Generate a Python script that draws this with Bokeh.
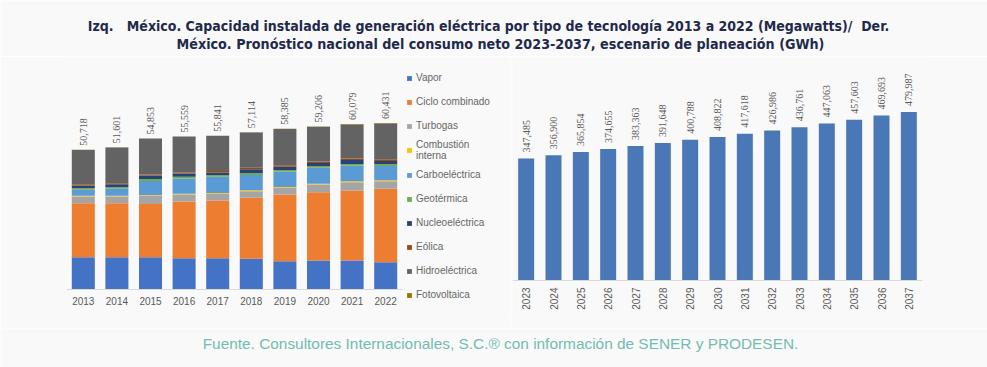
import math
from bokeh.plotting import figure
from bokeh.models import ColumnDataSource, Legend, LegendItem, Label, LabelSet, Range1d, FixedTicker
from bokeh.layouts import column, row
from bokeh.embed import file_html
from bokeh.resources import INLINE

# ---------------- data ----------------
years_left = ["2013", "2014", "2015", "2016", "2017", "2018", "2019", "2020", "2021", "2022"]
totals_left = [50718, 51601, 54853, 55559, 55841, 57114, 58385, 59206, 60079, 60431]
vapor = [11740, 11740, 11700, 11370, 11370, 11130, 10290, 10530, 10530, 9920]
ciclo = [19600, 19600, 19360, 20570, 20930, 22140, 24200, 24800, 25410, 26620]
turbogas = [2420, 2420, 3020, 2540, 2420, 2420, 2420, 2780, 3020, 2780]
combustion = [250, 250, 260, 270, 280, 300, 310, 320, 330, 340]
carbo = [2180, 2540, 5080, 5570, 5900, 5570, 5570, 5800, 5690, 5200]
geo = [600, 600, 720, 600, 600, 600, 600, 500, 600, 600]
nucleo = [970, 1090, 1210, 1210, 1000, 1450, 1210, 1210, 1450, 1210]
eolica = [480, 360, 360, 360, 480, 600, 480, 480, 480, 600]
hidro = [12418, 12941, 13083, 13009, 12801, 12824, 13205, 12666, 12419, 12981]
foto = [60, 60, 60, 60, 60, 80, 100, 120, 150, 180]

series_keys = ["vapor", "ciclo", "turbogas", "combustion", "carbo", "geo", "nucleo", "eolica", "hidro", "foto"]
series_labels = ["Vapor", "Ciclo combinado", "Turbogas", "Combustión\ninterna", "Carboeléctrica",
                 "Geotérmica", "Nucleoeléctrica", "Eólica", "Hidroeléctrica", "Fotovoltaica"]
series_colors = ["#4472C4", "#ED7D31", "#A5A5A5", "#FFC000", "#5B9BD5",
                 "#70AD47", "#264478", "#9E480E", "#636363", "#997300"]

years_right = ["2023", "2024", "2025", "2026", "2027", "2028", "2029", "2030",
               "2031", "2032", "2033", "2034", "2035", "2036", "2037"]
consumo = [347485, 356900, 365854, 374655, 383363, 391648, 400788, 408822,
           417618, 426986, 436761, 447063, 457603, 469693, 479987]

# ---------------- style ----------------
BG = "#F9F9F9"
AX = "#D9D9D9"
TXT = "#595959"
FONT = "Liberation Sans"
TITLE_FONT = "DejaVu Sans Condensed"
NB = "\u00a0"


def blank(w, h):
    f = figure(width=w, height=h, x_range=Range1d(0, w), y_range=Range1d(0, h),
               x_axis_location=None, y_axis_location=None, output_backend="svg",
               toolbar_location=None, min_border=0, min_border_left=0, min_border_right=0,
               min_border_top=0, min_border_bottom=0,
               background_fill_color=BG, border_fill_color=BG, outline_line_color=None)
    f.grid.visible = False
    return f


def style_axis(ax):
    ax.fixed_location = 0
    ax.axis_line_color = AX
    ax.major_tick_line_color = None
    ax.minor_tick_line_color = None
    ax.major_tick_out = 0
    ax.major_label_text_font = FONT
    ax.major_label_text_font_size = "10px"
    ax.major_label_text_color = TXT
    ax.major_label_standoff = 7


# ---------------- header ----------------
header = blank(987, 56)
header.add_layout(Label(x=488, y=31,
                        text=f"Izq.{NB}{NB}{NB}México. Capacidad instalada de generación eléctrica por tipo de tecnología 2013 a 2022 (Megawatts)/{NB}{NB}Der.",
                        text_align="center", text_baseline="alphabetic", text_font=TITLE_FONT,
                        text_font_style="bold", text_font_size="14px", text_color="#1F2A4A"))
header.add_layout(Label(x=500, y=13,
                        text="México. Pronóstico nacional del consumo neto 2023-2037, escenario de planeación (GWh)",
                        text_align="center", text_baseline="alphabetic", text_font=TITLE_FONT,
                        text_font_style="bold", text_font_size="14.2px", text_color="#1F2A4A"))

# ---------------- left chart ----------------
# frame: x 66..510 (33.6 px per year), y 61..314, zero line at 289 (363 MW per px)
n_left = len(years_left)
src_l = dict(xi=list(range(n_left)), year=years_left, total=totals_left,
             label=[f"{v:,}" for v in totals_left])
for k, arr in zip(series_keys, [vapor, ciclo, turbogas, combustion, carbo, geo, nucleo, eolica, hidro, foto]):
    src_l[k] = arr
src_l = ColumnDataSource(src_l)

pl = figure(x_range=Range1d(-0.5, -0.5 + 444 / 33.6), y_range=Range1d(-25 * 363, 228 * 363),
            width=510, height=272, y_axis_location=None, output_backend="svg", toolbar_location=None,
            min_border_left=66, min_border_right=0, min_border_top=5, min_border_bottom=14,
            background_fill_color=BG, border_fill_color=BG, outline_line_color=None)
rs = pl.vbar_stack(series_keys, x="xi", width=0.685, color=series_colors, line_color=None, source=src_l)
pl.grid.visible = False
style_axis(pl.xaxis[0])
pl.xaxis.bounds = (-0.5, n_left - 0.5)
pl.xaxis.ticker = FixedTicker(ticks=list(range(n_left)))
pl.xaxis.major_label_overrides = {i: y for i, y in enumerate(years_left)}

pl.add_layout(LabelSet(x="xi", y="total", text="label", source=src_l, angle=math.pi / 2,
                       text_align="left", text_baseline="middle", y_offset=4,
                       text_font=FONT, text_font_size="10px", text_color=TXT))

legend = Legend(items=[LegendItem(label=lab, renderers=[r]) for lab, r in zip(series_labels, rs)],
                location=(340, 9), orientation="vertical", margin=0, padding=0, spacing=3,
                glyph_width=6, glyph_height=6, label_height=21, label_standoff=4,
                label_text_font=FONT, label_text_font_size="10px", label_text_color="#666666",
                background_fill_alpha=0, border_line_color=None)
pl.add_layout(legend)

# ---------------- right chart ----------------
# frame: x 512..922, y 61..314, zero line at 280 (2848 GWh per px)
src_r = ColumnDataSource(dict(year=years_right, val=consumo, label=[f"{v:,}" for v in consumo]))
pr = figure(x_range=years_right, y_range=Range1d(-34 * 2848, 219 * 2848), width=477, height=272,
            y_axis_location=None, output_backend="svg", toolbar_location=None,
            min_border_left=2, min_border_right=65, min_border_top=5, min_border_bottom=14,
            background_fill_color=BG, border_fill_color=BG, outline_line_color=None)
pr.vbar(x="year", top="val", width=0.585, color="#4A77B6", line_color=None, source=src_r)
pr.grid.visible = False
style_axis(pr.xaxis[0])
pr.xaxis.major_label_orientation = math.pi / 2
pr.add_layout(LabelSet(x="year", y="val", text="label", source=src_r, angle=math.pi / 2,
                       text_align="left", text_baseline="middle", y_offset=6,
                       text_font=FONT, text_font_size="10px", text_color=TXT))

# ---------------- footer ----------------
footer = blank(987, 39)
footer.add_layout(Label(x=500, y=24, text="Fuente. Consultores Internacionales, S.C.® con información de SENER y PRODESEN.",
                        text_align="center", text_baseline="alphabetic", text_font=FONT,
                        text_font_size="15.4px", text_color="#72BDB0"))

p = column(header, row(pl, pr), footer)

open("out.html", "w").write(file_html(p, INLINE))
